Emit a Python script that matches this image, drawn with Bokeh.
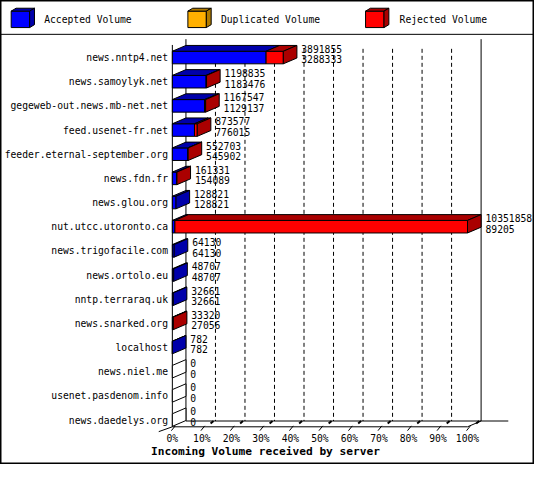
from bokeh.plotting import figure
from bokeh.models import Range1d
from bokeh.embed import file_html
from bokeh.resources import INLINE
from bokeh.core.properties import value

# ---------------- data ----------------
servers = [
    "news.nntp4.net", "news.samoylyk.net", "gegeweb-out.news.mb-net.net",
    "feed.usenet-fr.net", "feeder.eternal-september.org", "news.fdn.fr",
    "news.glou.org", "nut.utcc.utoronto.ca", "news.trigofacile.com",
    "news.ortolo.eu", "nntp.terraraq.uk", "news.snarked.org", "localhost",
    "news.niel.me", "usenet.pasdenom.info", "news.daedelys.org",
]
offered = [3891855, 1198835, 1167547, 873577, 552703, 161331, 128821,
           10351858, 64130, 48707, 32661, 33320, 782, 0, 0, 0]
accepted = [3288333, 1183476, 1129137, 776015, 545902, 154089, 128821,
            89205, 64130, 48707, 32661, 27056, 782, 0, 0, 0]
tick_values = [0, 10, 20, 30, 40, 50, 60, 70, 80, 90, 100]
tick_labels = ["0%", "10%", "20%", "30%", "40%", "50%", "60%", "70%",
               "80%", "90%", "100%"]
legend_labels = ["Accepted Volume", "Duplicated Volume", "Rejected Volume"]
x_title = "Incoming Volume received by server"

# ---------------- style / layout ----------------
BLUE, BLUE_D = "#0000FF", "#0000AA"
RED, RED_D = "#FF0000", "#AA0000"
ORANGE, ORANGE_D = "#FFB000", "#B07B00"
legend_front = [BLUE, ORANGE, RED]
legend_dark = [BLUE_D, ORANGE_D, RED_D]
FONT = "DejaVu Sans Mono"

W, H = 534, 464          # canvas (fits 550x480 window with 8px margin)
REF_W, REF_H = 550, 480  # reference design size
X0, PX_PCT = 177, 3.04   # 0% position and px per percent (design px)
Y0, ROW = 59, 25         # first row centre and row pitch (design px)


def rx(px):
    return (px - X0) / PX_PCT


def ry(py):
    return (py - Y0) / ROW


DX = 14 / PX_PCT   # 3D depth, horizontal
DY = 6 / ROW       # 3D depth, vertical (upwards)
HH = 6.5 / ROW     # half height of the bar front face

p = figure(width=W, height=H,
           x_range=Range1d(rx(0), rx(REF_W)),
           y_range=Range1d(ry(REF_H), ry(0)),
           output_backend="svg", toolbar_location=None,
           min_border=0, x_axis_type=None, y_axis_type=None)
p.grid.visible = False
p.outline_line_color = "black"
p.outline_line_width = 2
p.background_fill_color = "white"
p.border_fill_color = "white"

n = len(servers)
rows = list(range(n))
vmax = max(offered)
acc_pct = [a / vmax * 100 for a in accepted]
off_pct = [o / vmax * 100 for o in offered]

# ---------- back wall gridlines ----------
grid_x = [t + DX for t in tick_values[1:-1]]
p.segment(x0=grid_x, y0=[ry(50)] * len(grid_x), x1=grid_x,
          y1=[ry(435)] * len(grid_x), line_color="black",
          line_dash="4 3", line_width=1)

# walls / floor
wall_x0 = [0, DX, 100 + DX, 0, DX, 100, rx(163)]
wall_y0 = [ry(46), ry(40), ry(40), ry(441), ry(435), ry(441), ry(446)]
wall_x1 = [0, DX, 100 + DX, 100, rx(523), 100 + DX, 0]
wall_y1 = [ry(441), ry(435), ry(435), ry(441), ry(435), ry(435), ry(441)]
p.segment(x0=wall_x0, y0=wall_y0, x1=wall_x1, y1=wall_y1,
          line_color="black", line_width=1)

# x ticks (slanted 3D style)
tk = tick_values
p.segment(x0=[t - 1 / PX_PCT for t in tk], y0=[ry(445)] * len(tk),
          x1=[t + 3 / PX_PCT for t in tk], y1=[ry(440)] * len(tk),
          line_color="black", line_width=1)
tb = tick_values[1:]
p.segment(x0=[t + 9 / PX_PCT for t in tb], y0=[ry(437.5)] * len(tb),
          x1=[t + 12 / PX_PCT for t in tb], y1=[ry(435)] * len(tb),
          line_color="black", line_width=2)

# ---------- bars ----------
# front faces
fb = [i for i in rows if accepted[i] > 0]
p.quad(left=[0] * len(fb), right=[acc_pct[i] for i in fb],
       top=[i - HH for i in fb], bottom=[i + HH for i in fb],
       fill_color=BLUE, line_color="black", line_width=1)
fr = [i for i in rows if offered[i] > accepted[i]]
p.quad(left=[acc_pct[i] for i in fr], right=[off_pct[i] for i in fr],
       top=[i - HH for i in fr], bottom=[i + HH for i in fr],
       fill_color=RED, line_color="black", line_width=1)

# top faces
txs, tys, tcs = [], [], []
for i in rows:
    segs = []
    if accepted[i] > 0:
        segs.append((0, acc_pct[i], BLUE_D))
    if offered[i] > accepted[i]:
        segs.append((acc_pct[i], off_pct[i], RED_D))
    for a, b, c in segs:
        yt = i - HH
        txs.append([a, b, b + DX, a + DX])
        tys.append([yt, yt, yt - DY, yt - DY])
        tcs.append(c)
p.patches(xs=txs, ys=tys, fill_color=tcs, line_color="black", line_width=1)

# side faces
sxs, sys_, scs = [], [], []
for i in rows:
    e = off_pct[i]
    sxs.append([e, e + DX, e + DX, e])
    sys_.append([i - HH, i - HH - DY, i + HH - DY, i + HH])
    if offered[i] == 0:
        scs.append("white")
    elif offered[i] > accepted[i]:
        scs.append(RED_D)
    else:
        scs.append(BLUE_D)
p.patches(xs=sxs, ys=sys_, fill_color=scs, line_color="black", line_width=1)

# value labels
lab_x = [e + DX + 4.5 / PX_PCT for e in off_pct]
p.text(x=lab_x, y=[i - 9 / ROW for i in rows], text=[str(v) for v in offered],
       text_font=value(FONT), text_font_size="9.7px", text_color="black",
       text_align="left", text_baseline="middle")
p.text(x=lab_x, y=[i + 2 / ROW for i in rows], text=[str(v) for v in accepted],
       text_font=value(FONT), text_font_size="9.7px", text_color="black",
       text_align="left", text_baseline="middle")

# category labels
p.text(x=[rx(172.5)] * n, y=rows, text=servers,
       text_font=value(FONT), text_font_size="9.7px", text_color="black",
       text_align="right", text_baseline="middle")

# x tick labels
p.text(x=tick_values, y=[ry(453)] * len(tick_values), text=tick_labels,
       text_font=value(FONT), text_font_size="9.7px", text_color="black",
       text_align="center", text_baseline="middle")

# axis title
p.text(x=[rx(155)], y=[ry(467)], text=[x_title],
       text_font=value(FONT), text_font_size="11.2px", text_font_style="bold",
       text_color="black", text_align="left", text_baseline="middle")

# ---------- legend ----------
lg_left = [11, 193, 376]
lg_text = [45, 227, 411]
lfx, lfy, ltx, lty, lsx, lsy = [], [], [], [], [], []
for L in lg_left:
    a, b = rx(L), rx(L + 19)
    t, btm = ry(11), ry(28)
    ddx, ddy = 5 / PX_PCT, 3 / ROW
    lfx.append([a, b, b, a]); lfy.append([t, t, btm, btm])
    ltx.append([a, b, b + ddx, a + ddx]); lty.append([t, t, t - ddy, t - ddy])
    lsx.append([b, b + ddx, b + ddx, b]); lsy.append([t, t - ddy, btm - ddy, btm])
p.patches(xs=lfx, ys=lfy, fill_color=legend_front, line_color="black")
p.patches(xs=ltx, ys=lty, fill_color=legend_dark, line_color="black")
p.patches(xs=lsx, ys=lsy, fill_color=legend_dark, line_color="black")
p.text(x=[rx(v) for v in lg_text], y=[ry(20)] * 3, text=legend_labels,
       text_font=value(FONT), text_font_size="9.7px", text_color="black",
       text_align="left", text_baseline="middle")
p.segment(x0=[rx(0)], y0=[ry(35)], x1=[rx(REF_W)], y1=[ry(35)],
          line_color="black", line_width=1)

open("out.html", "w").write(file_html(p, INLINE))
